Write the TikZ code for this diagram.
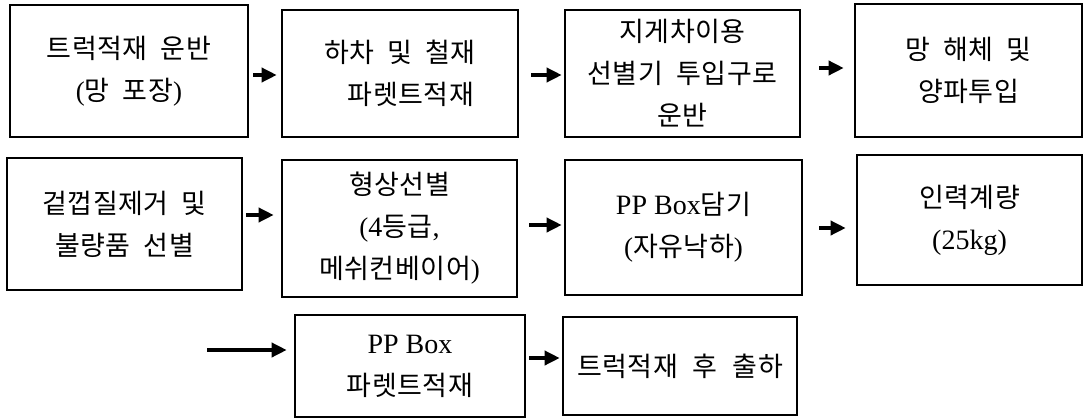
\documentclass[tikz,border=0pt]{standalone}
\usepackage{fontspec}
\setmainfont{Liberation Serif}
\newfontfamily\kr[LetterSpace=2,WordSpace=2]{Noto Sans CJK KR}
\newcommand\myLp{{\rmfamily(}}
\newcommand\myRp{{\rmfamily)}}
\newcommand\lat[1]{{\rmfamily\fontsize{28}{42}\selectfont #1}}
\usetikzlibrary{arrows.meta}
\begin{document}
\begin{tikzpicture}[x=1pt,y=-1pt,
  box/.style={draw,line width=2.6pt,inner sep=0pt,align=center,
    font=\kr\fontsize{27}{42}\selectfont},
  arr/.style={line width=3.5pt,-{Triangle[length=15pt,width=14pt]}}]
\useasboundingbox (0,0) rectangle (1089,420);
% row 1
\node[box,minimum width=238pt,minimum height=132pt] (b1) at (129,71)
  {트럭적재 운반\\\myLp 망 포장\myRp};
\node[box,minimum width=236pt,minimum height=127pt] (b2) at (400,73.5)
  {하차 및 철재\\\hspace*{0.8em}파렛트적재};
\node[box,minimum width=235pt,minimum height=127pt] (b3) at (682.5,73.5)
  {지게차이용\\선별기 투입구로\\운반};
\node[box,minimum width=227pt,minimum height=133pt] (b4) at (968.5,70.5)
  {망 해체 및\\양파투입};
% row 2
\node[box,minimum width=235pt,minimum height=132pt] (b5) at (124.5,224)
  {겉껍질제거 및\\불량품 선별};
\node[box,minimum width=235pt,minimum height=137pt] (b6) at (399.5,228.5)
  {형상선별\\\myLp\lat{4}등급\lat{,}\\메쉬컨베이어\myRp};
\node[box,minimum width=237pt,minimum height=135pt] (b7) at (683.5,227.5)
  {\lat{PP Box}담기\\\myLp 자유낙하\myRp};
\node[box,minimum width=225pt,minimum height=130pt] (b8) at (969.5,220)
  {인력계량\\\lat{(25kg)}};
% row 3
\node[box,minimum width=230pt,minimum height=102pt] (b9) at (410,366)
  {\lat{PP Box}\\파렛트적재};
\node[box,minimum width=234pt,minimum height=98pt] (b10) at (680,366)
  {트럭적재\hspace{0.55em}후\hspace{0.55em}출하};
\coordinate (in9) at (207,350);
% arrows
\draw[arr,shorten <=4pt,shorten >=4pt] ([yshift=-4pt]b1.east) -- ([yshift=-4pt]b1.east -| b2.west);
\draw[arr,shorten <=12pt,shorten >=2pt] ([yshift=-1.5pt]b2.east) -- ([yshift=-1.5pt]b2.east -| b3.west);
\draw[arr,shorten <=18pt,shorten >=10pt] ([yshift=5.5pt]b3.east) -- ([yshift=5.5pt]b3.east -| b4.west);
\draw[arr,shorten <=3pt,shorten >=7pt] ([yshift=9pt]b5.east) -- ([yshift=9pt]b5.east -| b6.west);
\draw[arr,shorten <=11pt,shorten >=2pt] ([yshift=3.5pt]b6.east) -- ([yshift=3.5pt]b6.east -| b7.west);
\draw[arr,shorten <=16pt,shorten >=10pt] ([yshift=-0.5pt]b7.east) -- ([yshift=-0.5pt]b7.east -| b8.west);
\draw[arr,shorten >=7pt] (in9) -- (in9 -| b9.west);
\draw[arr,shorten <=3pt,shorten >=2pt] ([yshift=8pt]b9.east) -- ([yshift=8pt]b9.east -| b10.west);
\end{tikzpicture}
\end{document}
